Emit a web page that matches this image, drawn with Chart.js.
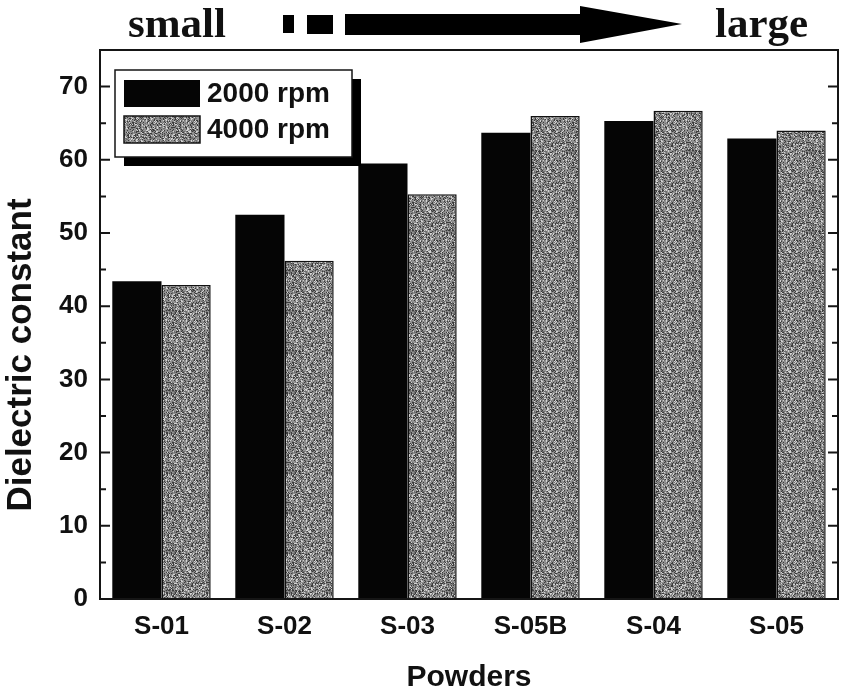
<!DOCTYPE html>
<html>
<head>
<meta charset="utf-8">
<script src="https://cdn.jsdelivr.net/npm/chart.js@4.4.1/dist/chart.umd.min.js"></script>
<style>
  body { margin: 0; background: #fff; }
  canvas { display: block; }
</style>
</head>
<body>
<canvas id="chart" width="842" height="698"></canvas>
<script>
const powders = ['S-01', 'S-02', 'S-03', 'S-05B', 'S-04', 'S-05'];
const rpm2000 = [43.4, 52.5, 59.5, 63.7, 65.3, 62.9];
const rpm4000 = [42.9, 46.2, 55.3, 66.0, 66.7, 64.0];
const seriesNames = ['2000 rpm', '4000 rpm'];
const yTicks = [0, 10, 20, 30, 40, 50, 60, 70];
const yTitle = 'Dielectric constant';

const canvas = document.getElementById('chart');
const ctx = canvas.getContext('2d');

// grey speckled fill like the scanned figure
function speckle() {
    const n = 40;
    const c = document.createElement('canvas');
    c.width = n; c.height = n;
    const g = c.getContext('2d');
    const img = g.createImageData(n, n);
    for (let y = 0; y < n; y++) {
        for (let x = 0; x < n; x++) {
            let h = (x * 374761393 + y * 668265263) | 0;
            h = Math.imul(h ^ (h >>> 13), 1274126177);
            h = (h ^ (h >>> 16)) & 255;
            let v = 145;
            if (h < 55) v = 60;
            else if (h < 110) v = 110;
            else if (h > 215) v = 210;
            const i = (y * n + x) * 4;
            img.data[i] = img.data[i + 1] = img.data[i + 2] = v;
            img.data[i + 3] = 255;
        }
    }
    g.putImageData(img, 0, 0);
    return ctx.createPattern(c, 'repeat');
}
const grey = speckle();

// frame, inward ticks, y title, legend and the size arrow on top
const decor = {
    id: 'decor',
    afterDraw(chart) {
        const c = chart.ctx;
        const a = chart.chartArea;
        const y = chart.scales.y;
        c.save();
        c.strokeStyle = '#151515';
        c.lineWidth = 2;
        c.strokeRect(a.left, a.top, a.right - a.left, a.bottom - a.top);
        y.ticks.forEach(t => {
            if (t.value <= 0 || t.value >= 75) return;
            const py = y.getPixelForValue(t.value);
            const len = t.value % 10 === 0 ? 10 : 6;
            c.beginPath();
            c.moveTo(a.left, py); c.lineTo(a.left + len, py);
            c.moveTo(a.right, py); c.lineTo(a.right - len, py);
            c.stroke();
        });

        // y axis title
        c.save();
        c.translate(21, 355);
        c.rotate(-Math.PI / 2);
        c.fillStyle = '#111';
        c.font = 'bold 35px "Liberation Sans", Arial, sans-serif';
        c.textAlign = 'center';
        c.textBaseline = 'middle';
        c.fillText(yTitle, 0, 0);
        c.restore();

        // legend
        c.fillStyle = '#000';
        c.fillRect(124, 79, 237, 87);
        c.fillStyle = '#fff';
        c.fillRect(115, 70, 237, 87);
        c.lineWidth = 1.5;
        c.strokeRect(115, 70, 237, 87);
        c.fillStyle = '#050505';
        c.fillRect(124, 80, 76, 27);
        c.fillStyle = grey;
        c.fillRect(124, 116, 76, 27);
        c.strokeRect(124, 116, 76, 27);
        c.fillStyle = '#111';
        c.font = 'bold 28px "Liberation Sans", Arial, sans-serif';
        c.textBaseline = 'middle';
        c.fillText(chart.data.datasets[0].label, 207, 94);
        c.fillText(chart.data.datasets[1].label, 207, 130);

        // small -> large
        c.font = 'bold 43px "Liberation Serif", "Times New Roman", serif';
        c.textBaseline = 'alphabetic';
        c.fillText('small', 128, 37);
        c.fillText('large', 715, 37);
        c.fillStyle = '#000';
        c.fillRect(283, 15, 11, 18);
        c.fillRect(307, 15, 26, 19);
        c.fillRect(345, 14, 236, 21);
        c.beginPath();
        c.moveTo(580, 6);
        c.lineTo(682, 24);
        c.lineTo(580, 43);
        c.closePath();
        c.fill();
        c.restore();
    }
};

Chart.defaults.font.family = '"Liberation Sans", Arial, sans-serif';
Chart.defaults.color = '#111';

new Chart(ctx, {
    type: 'bar',
    data: {
        labels: powders,
        datasets: [
            { label: seriesNames[0], data: rpm2000, backgroundColor: '#050505', borderWidth: 0 },
            { label: seriesNames[1], data: rpm4000, backgroundColor: grey, borderColor: '#111', borderWidth: 1.5 }
        ]
    },
    options: {
        responsive: false,
        animation: false,
        categoryPercentage: 0.8,
        barPercentage: 1.0,
        layout: { padding: { top: 50, right: 4, left: 0, bottom: 0 } },
        plugins: { legend: { display: false }, tooltip: { enabled: false } },
        scales: {
            x: {
                grid: { display: false, drawTicks: false },
                border: { display: false },
                ticks: { font: { size: 26, weight: 'bold' }, padding: 12, autoSkip: false, maxRotation: 0 },
                title: { display: true, text: 'Powders', font: { size: 30, weight: 'bold' }, padding: { top: 0, bottom: 2 } },
                afterFit(s) { s.height = 99; }
            },
            y: {
                min: 0,
                max: 75,
                grid: { display: false, drawTicks: false },
                border: { display: false },
                ticks: {
                    stepSize: 5,
                    autoSkip: false,
                    padding: 12,
                    font: { size: 26, weight: 'bold' },
                    callback: v => yTicks.includes(v) ? v : ''
                },
                title: { display: false },
                afterFit(s) { s.width = 100; }
            }
        }
    },
    plugins: [decor]
});
</script>
</body>
</html>
